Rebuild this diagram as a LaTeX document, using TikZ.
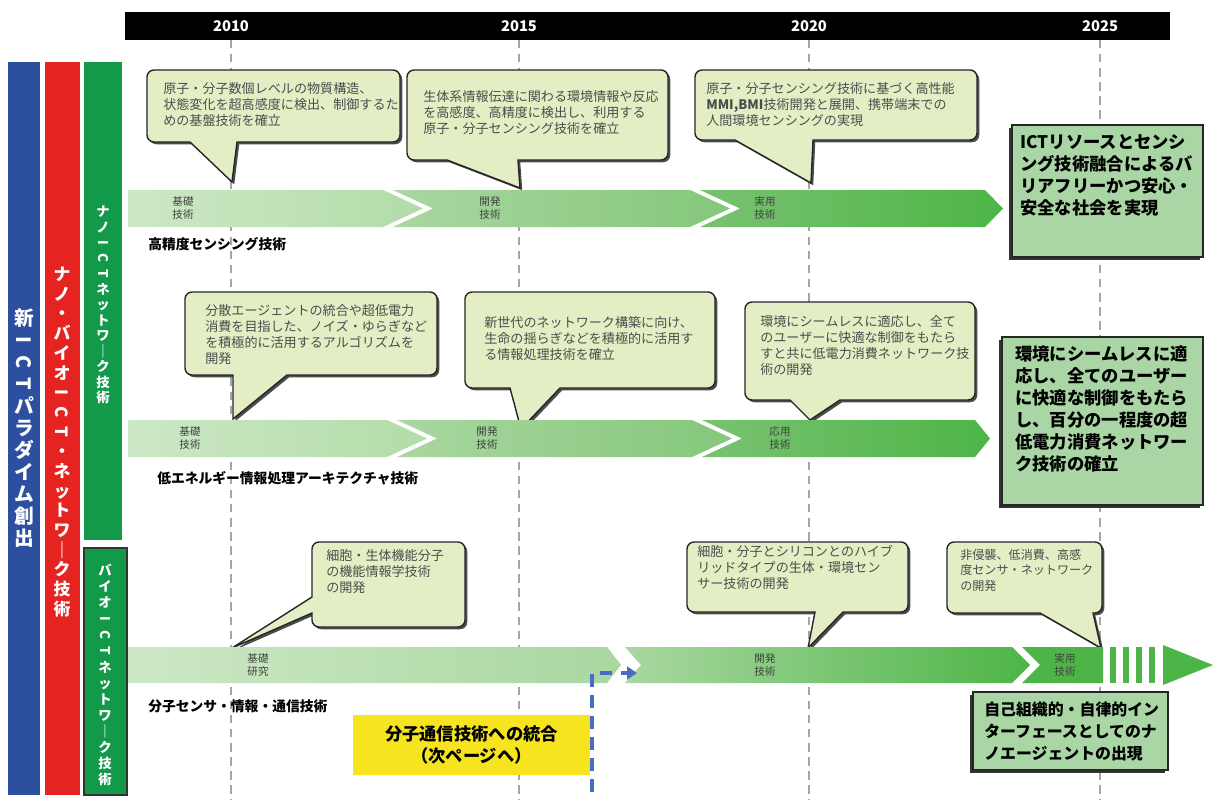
\documentclass[tikz,border=0pt]{standalone}
\usepackage{fontspec}
\setmainfont{Noto Sans CJK JP}
\usetikzlibrary{shadows,arrows.meta}
\definecolor{cfill}{HTML}{E4EEC4}
\definecolor{bluebar}{HTML}{2D4FA0}
\definecolor{redbar}{HTML}{E52421}
\definecolor{greenbar}{HTML}{12994A}
\definecolor{rbox}{HTML}{A9D6A4}
\definecolor{ybox}{HTML}{F6E51E}
\definecolor{arrblue}{HTML}{4B6BC4}
\definecolor{gA}{HTML}{CDE8C6}
\definecolor{gB}{HTML}{B2DCA9}
\definecolor{gC}{HTML}{A9D7A0}
\definecolor{gD}{HTML}{85C77B}
\definecolor{gE}{HTML}{79C270}
\definecolor{gF}{HTML}{4DB547}
\newcommand\chevseg[8]{%
\shade[left color=#7,right color=#8] (#1,#5) -- (#3,#5) -- ({#3+#4},{(#5+#6)/2}) -- (#3,#6) -- (#1,#6) -- ({#1+#2},{(#5+#6)/2}) -- cycle;}
\newcommand\rotlat[1]{\rotatebox[origin=c]{-90}{#1}}
\begin{document}
\begin{tikzpicture}[x=0.025cm,y=-0.025cm,
  callout/.style={draw=black!85,line width=1pt,fill=cfill,rounded corners=5pt,
    drop shadow={shadow xshift=1.6pt,shadow yshift=-1.6pt,fill=black!70,opacity=1}},
  ctext/.style={anchor=north west,align=left,text=black!70,font=\fontsize{9.3}{11.5}\selectfont,inner sep=0pt},
  stage/.style={align=center,text=black!75,font=\fontsize{7.5}{9}\selectfont,inner sep=0pt},
  rowlab/.style={anchor=west,font=\bfseries\fontsize{9.8}{11}\selectfont,inner sep=0pt},
  year/.style={text=white,font=\bfseries\fontsize{10.5}{12}\selectfont},
  yline/.style={draw=black!35,dashed,line width=1.2pt,dash pattern=on 6pt off 4pt},
  rgoal/.style={draw=black!85,line width=0.8pt,fill=rbox,
    drop shadow={shadow xshift=-2.2pt,shadow yshift=-2.2pt,fill=black!80,opacity=1}},
  gtext/.style={anchor=north west,align=left,inner sep=0pt,font=\bfseries\fontsize{12.3}{15.7}\selectfont},
  vtext/.style={align=center,text=white,inner sep=0pt}
]
\useasboundingbox (0,0) rectangle (1213,802);
\fill[white] (0,0) rectangle (1213,802);

% year grid lines
\foreach \n/\xx in {a/231,b/519,c/809,d/1100}{
  \coordinate (top\n) at (\xx,40);
  \coordinate (bot\n) at (\xx,800);
  \draw[yline] (top\n) -- (bot\n);
}

% header
\fill[black] (125,12) rectangle (1170,40);
\node[year] (y2010) at (231,26) {2010};
\node[year] (y2015) at (519,26) {2015};
\node[year] (y2020) at (809,26) {2020};
\node[year] (y2025) at (1100,26) {2025};

% ---------- callouts row 1
\draw[callout] (147,70) -- (400,70) -- (400,142) [sharp corners] -- (237,142) -- (232,182) -- (190,142) [rounded corners=5pt] -- (147,142) -- cycle;
\node[ctext] (c1) at (163,82) {原子・分子数個レベルの物質構造、\\状態変化を超高感度に検出、制御するた\\めの基盤技術を確立};
\draw[callout] (407,70) -- (668,70) -- (668,160) [sharp corners] -- (518,160) -- (520,188) -- (447,160) [rounded corners=5pt] -- (407,160) -- cycle;
\node[ctext] (c2) at (423,90) {生体系情報伝達に関わる環境情報や反応\\を高感度、高精度に検出し、利用する\\原子・分子センシング技術を確立};
\draw[callout] (695,70) -- (977,70) -- (977,140) [sharp corners] -- (813,140) -- (811,183) -- (735,140) [rounded corners=5pt] -- (695,140) -- cycle;
\node[ctext] (c3) at (706,82) {原子・分子センシング技術に基づく高性能\\\textbf{MMI,BMI}技術開発と展開、携帯端末での\\人間環境センシングの実現};

% ---------- callouts row 2
\draw[callout] (185,292) -- (437,292) -- (437,375) [sharp corners] -- (287,375) -- (233,419) -- (233,375) [rounded corners=5pt] -- (185,375) -- cycle;
\node[ctext] (c4) at (205,304) {分散エージェントの統合や超低電力\\消費を目指した、ノイズ・ゆらぎなど\\を積極的に活用するアルゴリズムを\\開発};
\draw[callout] (465,292) -- (715,292) -- (715,388) [sharp corners] -- (560,388) -- (521,429) -- (510,388) [rounded corners=5pt] -- (465,388) -- cycle;
\node[ctext] (c5) at (484,316) {新世代のネットワーク構築に向け、\\生命の揺らぎなどを積極的に活用す\\る情報処理技術を確立};
\draw[callout] (745,302) -- (975,302) -- (975,400) [sharp corners] -- (840,400) -- (810,420) -- (790,400) [rounded corners=5pt] -- (745,400) -- cycle;
\node[ctext] (c6) at (760,315) {環境にシームレスに適応し、全て\\のユーザーに快適な制御をもたら\\すと共に低電力消費ネットワーク技\\術の開発};

% ---------- callouts row 3
\draw[callout] (312,542) -- (465,542) -- (465,627) -- (312,627) [sharp corners] -- (312,613) -- (232,648) -- (312,597) [rounded corners=5pt] -- cycle;
\node[ctext] (c7) at (326,549) {細胞・生体機能分子\\の機能情報学技術\\の開発};
\draw[callout] (687,542) -- (908,542) -- (908,612) [sharp corners] -- (843,612) -- (808,648) -- (815,612) [rounded corners=5pt] -- (687,612) -- cycle;
\node[ctext] (c8) at (697,545) {細胞・分子とシリコンとのハイブ\\リッドタイプの生体・環境セン\\サー技術の開発};
\draw[callout] (947,542) -- (1102,542) -- (1102,613) [sharp corners] -- (1093,613) -- (1101,648) -- (1040,613) [rounded corners=5pt] -- (947,613) -- cycle;
\node[ctext,font=\fontsize{8.6}{11}\selectfont] (c9) at (960,549) {非侵襲、低消費、高感\\度センサ・ネットワーク\\の開発};

% ---------- row 1 band
\chevseg{128}{0}{383}{40}{190}{227}{gA}{gB}
\chevseg{393}{40}{690}{40}{190}{227}{gC}{gD}
\chevseg{700}{40}{985}{18}{190}{227}{gE}{gF}
\node[stage] (s11) at (183,208) {基礎\\技術};
\node[stage] (s12) at (490,208) {開発\\技術};
\node[stage] (s13) at (765,208) {実用\\技術};
\node[rowlab] (r1) at (148,244) {高精度センシング技術};

% ---------- row 2 band
\chevseg{128}{0}{387}{40}{420}{457}{gA}{gB}
\chevseg{397}{40}{692}{40}{420}{457}{gC}{gD}
\chevseg{702}{40}{975}{15}{420}{457}{gE}{gF}
\node[stage] (s21) at (190,438) {基礎\\技術};
\node[stage] (s22) at (487,438) {開発\\技術};
\node[stage] (s23) at (780,438) {応用\\技術};
\node[rowlab] (r2) at (157,478) {低エネルギー情報処理アーキテクチャ技術};

% ---------- row 3 band
\chevseg{128}{0}{607}{14}{647}{683}{gA}{gC}
\chevseg{625}{16}{1012}{18}{647}{683}{gC}{gF}
\chevseg{1022}{18}{1103}{0}{647}{683}{gF}{gF}
\foreach \sx in {1110,1123,1136,1149}{
  \fill[gF] (\sx,647) rectangle ({\sx+6},683);
}
\fill[gF] (1163,645) -- (1213,665) -- (1163,685) -- cycle;
\node[stage] (s31) at (258,665) {基礎\\研究};
\node[stage] (s32) at (765,665) {開発\\技術};
\node[stage] (s33) at (1065,665) {実用\\技術};
\node[rowlab] (r3) at (148,706) {分子センサ・情報・通信技術};

% blue dashed arrow
\coordinate (bstart) at (592,792);
\coordinate (bend) at (637,673);
\draw[arrblue,line width=3pt,dash pattern=on 9pt off 6pt,-{Triangle[length=7pt,width=9pt]}] (bstart) |- (bend);

% yellow box
\node[fill=ybox,minimum width=237*0.025cm,minimum height=60*0.025cm,align=center,
  font=\bfseries\fontsize{12.3}{16}\selectfont,inner sep=0pt] (ybx) at (471.5,745) {分子通信技術への統合\\（次ページへ）};

% goal boxes
\draw[rgoal] (1012,125) rectangle (1203,257);
\node[gtext] (g1) at (1020,134) {ICTリソースとセンシ\\ング技術融合によるバ\\リアフリーかつ安心・\\安全な社会を実現};
\draw[rgoal] (1002,337) rectangle (1203,505);
\node[gtext] (g2) at (1015,345) {環境にシームレスに適\\応し、全てのユーザー\\に快適な制御をもたら\\し、百分の一程度の超\\低電力消費ネットワー\\ク技術の確立};
\draw[rgoal] (973,692) rectangle (1168,770);
\node[gtext,font=\bfseries\fontsize{11.3}{15.5}\selectfont] (g3) at (984,702) {自己組織的・自律的イン\\ターフェースとしてのナ\\ノエージェントの出現};

% left bars
\fill[bluebar] (8,62) rectangle (40,795);
\fill[redbar] (45,62) rectangle (80,795);
\fill[greenbar] (84,62) rectangle (122,540);
\draw[fill=greenbar,draw=black!80,line width=0.8pt] (84,548) rectangle (127,795);
\node[vtext,font=\bfseries\fontsize{14}{15.6}\selectfont] (v1) at (24,428) {新\\\rotlat{I}\\\rotlat{C}\\\rotlat{T}\\パ\\ラ\\ダ\\イ\\ム\\創\\出};
\node[vtext,font=\bfseries\fontsize{12}{14}\selectfont] (v2) at (62,442) {ナ\\ノ\\・\\バ\\イ\\オ\\\rotlat{I}\\\rotlat{C}\\\rotlat{T}\\・\\ネ\\ッ\\ト\\ワ\\｜\\ク\\技\\術};
\node[vtext,font=\bfseries\fontsize{9.5}{11}\selectfont] (v3) at (103,305) {ナ\\ノ\\\rotlat{I}\\\rotlat{C}\\\rotlat{T}\\ネ\\ッ\\ト\\ワ\\｜\\ク\\技\\術};
\node[vtext,font=\bfseries\fontsize{9.5}{11.4}\selectfont] (v4) at (105,675) {バ\\イ\\オ\\\rotlat{I}\\\rotlat{C}\\\rotlat{T}\\ネ\\ッ\\ト\\ワ\\｜\\ク\\技\\術};
\end{tikzpicture}
\end{document}
